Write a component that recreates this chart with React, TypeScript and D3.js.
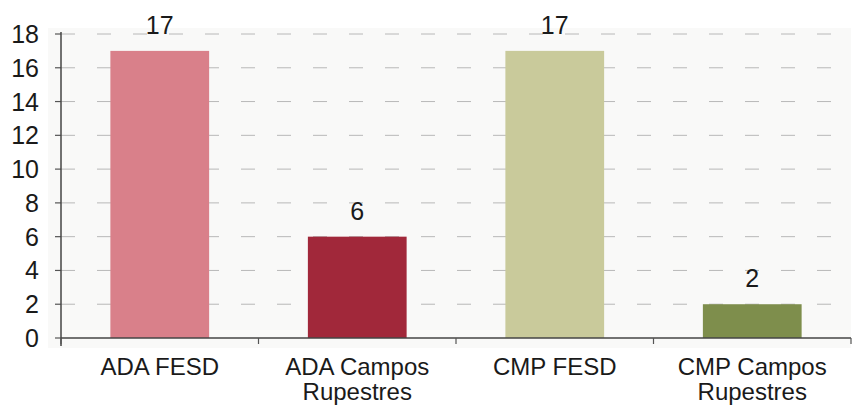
import React from "react";
import * as d3 from "d3";

const categories = ["ADA FESD", "ADA Campos Rupestres", "CMP FESD", "CMP Campos Rupestres"];
const categoryLines = [["ADA FESD"], ["ADA Campos", "Rupestres"], ["CMP FESD"], ["CMP Campos", "Rupestres"]];
const values = [17, 6, 17, 2];
const barColors = ["#d9808a", "#a1283a", "#c9ca9b", "#7e8e4c"];
const yTicks = [0, 2, 4, 6, 8, 10, 12, 14, 16, 18];

const W = 857;
const H = 405;
const margin = { left: 61, right: 6, top: 34, bottom: 72 };

export default function App() {
  const x = d3
    .scaleBand<string>()
    .domain(categories)
    .range([margin.left, W - margin.right])
    .paddingInner(0.5)
    .paddingOuter(0.25);
  const y = d3.scaleLinear().domain([0, 18]).range([H - margin.bottom + 5, margin.top]);
  const font = "'Liberation Sans', Arial, sans-serif";
  const x0 = margin.left;
  const x1 = W - margin.right;
  const step = x.step();
  return (
    <svg
      width={W}
      height={H}
      style={{ position: "absolute", left: 0, top: 0, background: "#fff" }}
      fontFamily={font}
    >
      <rect x={48} y={28} width={x1 - 48} height={y(0) + 10 - 28} fill="#f9f9f8" />
      {yTicks.map((t) => (
        <g key={t}>
          {t > 0 && (
            <line
              x1={x0}
              x2={x1}
              y1={y(t)}
              y2={y(t)}
              stroke="#b8b8b8"
              strokeWidth={1}
              strokeDasharray="14 22"
            />
          )}
          <line x1={x0 - 6} x2={x0} y1={y(t)} y2={y(t)} stroke="#555" strokeWidth={1.2} />
          <text
            x={39}
            y={y(t)}
            dy="0.36em"
            textAnchor="end"
            fontSize={25}
            fill="#1a1a1a"
          >
            {t}
          </text>
        </g>
      ))}
      {categories.map((c, i) => (
        <g key={c}>
          <rect
            x={x(c)}
            y={y(values[i])}
            width={x.bandwidth()}
            height={y(0) - y(values[i])}
            fill={barColors[i]}
          />
          <text
            x={(x(c) as number) + x.bandwidth() / 2}
            y={y(values[i]) - 17}
            textAnchor="middle"
            fontSize={25}
            fill="#1a1a1a"
          >
            {values[i]}
          </text>
          {categoryLines[i].map((ln, j) => (
            <text
              key={j}
              x={(x(c) as number) + x.bandwidth() / 2}
              y={y(0) + 37 + j * 25}
              textAnchor="middle"
              fontSize={24}
              fill="#1a1a1a"
            >
              {ln}
            </text>
          ))}
        </g>
      ))}
      <line x1={x0} x2={x0} y1={y(18) - 2} y2={y(0) + 8} stroke="#444" strokeWidth={1.5} />
      <line x1={x0} x2={x1} y1={y(0)} y2={y(0)} stroke="#444" strokeWidth={1.5} />
      {d3.range(5).map((k) => (
        <line
          key={k}
          x1={x0 + k * step}
          x2={x0 + k * step}
          y1={y(0)}
          y2={y(0) + 6}
          stroke="#555"
          strokeWidth={1.2}
        />
      ))}
    </svg>
  );
}
